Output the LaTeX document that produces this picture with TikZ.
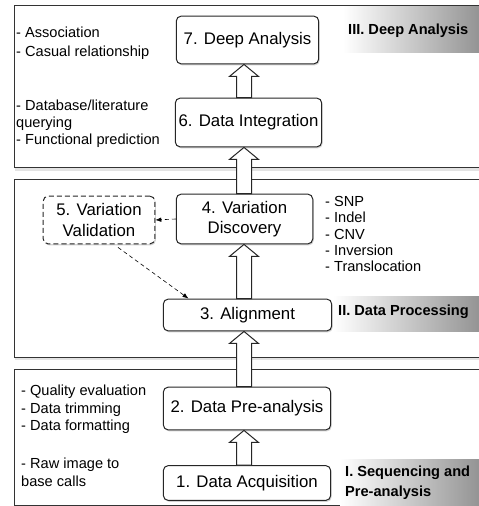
\documentclass[tikz,border=0pt]{standalone}
\usepackage{fontspec}
\setmainfont{Liberation Sans}
\usetikzlibrary{calc,shadows,arrows.meta}
\newcommand{\boxfont}{\fontsize{16.8bp}{20.5bp}\selectfont}
\newcommand{\sidefont}{\fontsize{14.6bp}{17.5bp}\selectfont}
\newcommand{\phasefont}{\fontsize{14.6bp}{20bp}\selectfont\bfseries}
\tikzset{
  panel/.style={draw=black!80, line width=1bp, fill=white,
                drop shadow={shadow xshift=1bp, shadow yshift=-3bp, opacity=0.22}},
  phaseshade/.style={left color=white, right color=black!42},
  stepbox/.style={draw=black!85, line width=1bp, fill=white, rounded corners=5bp,
                  inner sep=0pt, align=center, font=\boxfont,
                  drop shadow={shadow xshift=1bp, shadow yshift=-1.5bp, opacity=0.35}},
  optbox/.style={stepbox, dash pattern=on 5bp off 3bp},
  sidenote/.style={anchor=west, align=left, inner sep=0pt, font=\sidefont},
  phaselabel/.style={anchor=west, align=left, inner sep=0pt, font=\phasefont},
  bigarrow/.style={draw=black!85, line width=1bp, fill=white},
  dasharrow/.style={draw, line width=0.6bp, dash pattern=on 4bp off 3bp,
                    -{Latex[length=6bp,width=4.5bp]}}
}
% lower node, upper node: a hollow block arrow on the spine
\newcommand{\stepup}[2]{%
  \draw[bigarrow] let \p1=(#1.north), \p2=(#2.south), \p3=(spine) in
    (\x3-7.5bp,\y1) -- (\x3-7.5bp,\y2-12bp) -- (\x3-14.5bp,\y2-12bp) -- (\x3,\y2)
    -- (\x3+14.5bp,\y2-12bp) -- (\x3+7.5bp,\y2-12bp) -- (\x3+7.5bp,\y1) -- cycle;}

\begin{document}
\begin{tikzpicture}[x=1bp, y=-1bp]
  \useasboundingbox (0,0) rectangle (479,506);
  \clip (0,0) rectangle (479,506);
  % the three phases
  \path[panel] (14,6) rectangle (495,168);
  \path[panel] (14,180) rectangle (495,357);
  \path[panel] (14,369) rectangle (495,505);
  \shade[phaseshade] (343,7) rectangle (479,53);
  \shade[phaseshade] (333,296) rectangle (479,331);
  \shade[phaseshade] (340,459) rectangle (479,505);
  \node[phaselabel] (pIII) at (348,31) {III. Deep Analysis};
  \node[phaselabel] (pII) at (338,312) {II. Data Processing};
  \node[phaselabel] (pI) at (345,483) {I. Sequencing and\\Pre-analysis};
  % the steps
  \node[stepbox, minimum width=143, minimum height=48] (deep) at (247.5,40) {7. Deep Analysis};
  \node[stepbox, minimum width=147, minimum height=49] (integ) at (248.5,122.5) {6. Data Integration};
  \node[stepbox, minimum width=137, minimum height=50] (discov) at (244.5,219) {4. Variation\\Discovery};
  \node[optbox, minimum width=112, minimum height=48] (valid) at (99,220) {5. Variation\\Validation};
  \node[stepbox, minimum width=169, minimum height=32] (align) at (247.5,315) {3. Alignment};
  \node[stepbox, minimum width=168, minimum height=43] (preana) at (247,408.5) {2. Data Pre-analysis};
  \node[stepbox, minimum width=168, minimum height=35] (acq) at (247,483) {1. Data Acquisition};
  % what each step covers
  \node[sidenote, font={\fontsize{14.6bp}{19bp}\selectfont}] (ndeep) at (16,43.5)
    {- Association\\- Casual relationship};
  \node[sidenote, font={\fontsize{14.6bp}{17bp}\selectfont}] (ninteg) at (16,124)
    {- Database/literature\\querying\\- Functional prediction};
  \node[sidenote, font={\fontsize{14.6bp}{16.2bp}\selectfont}] (ndiscov) at (325,234)
    {- SNP\\- Indel\\- CNV\\- Inversion\\- Translocation};
  \node[sidenote] (npre) at (21,409.5)
    {- Quality evaluation\\- Data trimming\\- Data formatting};
  \node[sidenote, font={\fontsize{14.6bp}{18bp}\selectfont}] (nacq) at (21,472)
    {- Raw image to\\base calls};
  % the flow
  \coordinate (spine) at (244,0);
  \stepup{acq}{preana}
  \stepup{preana}{align}
  \stepup{align}{discov}
  \stepup{discov}{integ}
  \stepup{integ}{deep}
  \draw[dasharrow] (discov.west) -- (valid.east);
  \draw[dasharrow] ([xshift=19bp,yshift=-3bp]valid.south) -- ([xshift=-59bp]align.north);
\end{tikzpicture}
\end{document}
